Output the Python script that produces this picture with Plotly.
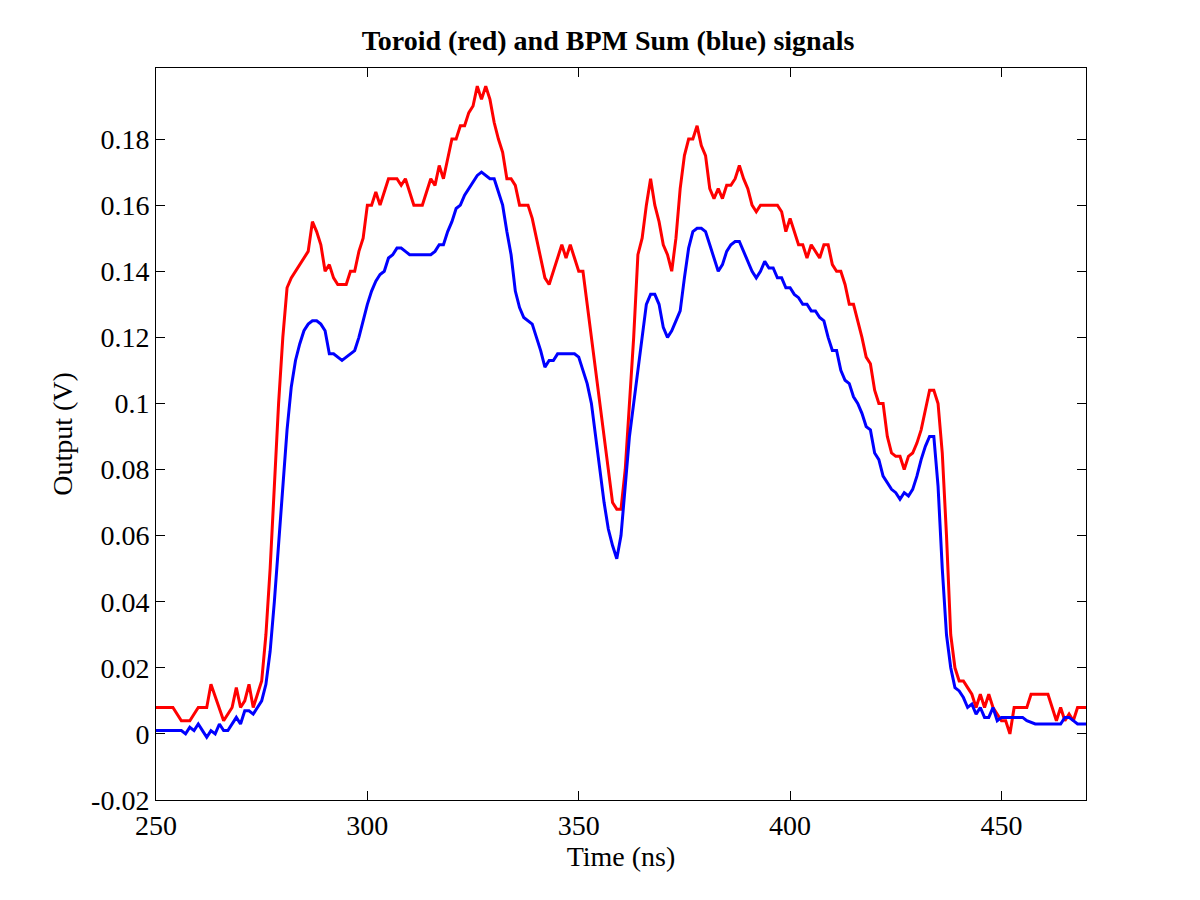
import plotly.graph_objects as go

red_t = [250, 254, 256, 258, 260, 262, 263, 265, 266, 268, 269, 270, 271, 272, 273, 274, 275, 276, 277, 278, 279,
         280, 281, 282, 283, 284, 285, 286, 287, 288, 289, 290, 291, 292, 293, 295, 296, 297, 298, 299, 300, 301, 302,
         303, 304, 305, 307, 308, 309, 310, 311, 313, 314, 315, 316, 317, 318, 319, 320, 321, 322, 323, 324, 325, 326,
         327, 328, 329, 330, 331, 332, 333, 334, 335, 336, 337, 338, 339, 340, 341, 342, 343, 344, 345, 346, 347, 348,
         349, 350, 351, 352, 353, 354, 355, 356, 357, 358, 359, 360, 361, 362, 363, 364, 365, 366, 367, 368, 369, 370,
         371, 372, 373, 374, 375, 376, 377, 378, 379, 380, 381, 382, 383, 384, 385, 386, 387, 388, 389, 390, 391, 392,
         393, 396, 397, 398, 399, 400, 401, 402, 403, 404, 405, 406, 407, 408, 409, 410, 411, 412, 413, 414, 415, 416,
         417, 418, 419, 420, 421, 422, 423, 424, 425, 426, 427, 428, 429, 430, 431, 432, 433, 434, 435, 436, 437, 438,
         439, 440, 441, 442, 443, 444, 445, 446, 447, 448, 449, 450, 451, 452, 453, 456, 457, 461, 462, 463, 464, 465,
         466, 467, 468, 470]
red_v = [0.008, 0.008, 0.004, 0.004, 0.008, 0.008, 0.015, 0.008, 0.004, 0.008, 0.014, 0.008, 0.01, 0.015, 0.008,
         0.012, 0.016, 0.03, 0.05, 0.075, 0.1, 0.12, 0.135, 0.138, 0.14, 0.142, 0.144, 0.146, 0.155, 0.152, 0.148, 0.14,
         0.142, 0.138, 0.136, 0.136, 0.14, 0.14, 0.146, 0.15, 0.16, 0.16, 0.164, 0.16, 0.164, 0.168, 0.168, 0.166,
         0.168, 0.164, 0.16, 0.16, 0.164, 0.168, 0.166, 0.172, 0.168, 0.174, 0.18, 0.18, 0.184, 0.184, 0.188, 0.19,
         0.196, 0.192, 0.196, 0.192, 0.185, 0.18, 0.176, 0.168, 0.168, 0.166, 0.16, 0.16, 0.16, 0.156, 0.15, 0.145,
         0.138, 0.136, 0.14, 0.144, 0.148, 0.144, 0.148, 0.144, 0.14, 0.14, 0.13, 0.12, 0.11, 0.1, 0.09, 0.08, 0.07,
         0.068, 0.068, 0.08, 0.1, 0.12, 0.145, 0.15, 0.16, 0.168, 0.16, 0.155, 0.148, 0.145, 0.14, 0.15, 0.165, 0.175,
         0.18, 0.18, 0.184, 0.178, 0.175, 0.165, 0.162, 0.165, 0.162, 0.166, 0.166, 0.168, 0.172, 0.168, 0.165, 0.16,
         0.158, 0.16, 0.16, 0.16, 0.158, 0.152, 0.156, 0.152, 0.148, 0.148, 0.144, 0.148, 0.146, 0.144, 0.148, 0.148,
         0.142, 0.14, 0.14, 0.136, 0.13, 0.13, 0.125, 0.12, 0.114, 0.112, 0.104, 0.1, 0.1, 0.09, 0.085, 0.084, 0.084,
         0.08, 0.084, 0.085, 0.088, 0.092, 0.098, 0.104, 0.104, 0.1, 0.085, 0.06, 0.03, 0.02, 0.016, 0.016, 0.014,
         0.012, 0.008, 0.012, 0.008, 0.012, 0.008, 0.006, 0.004, 0.004, 0.0, 0.008, 0.008, 0.012, 0.012, 0.008, 0.004,
         0.008, 0.004, 0.006, 0.004, 0.008, 0.008]

blue_t = [250, 256, 257, 258, 259, 260, 261, 262, 263, 264, 265, 266, 267, 268, 269, 270, 271, 272, 273, 274, 275,
          276, 277, 278, 279, 280, 281, 282, 283, 284, 285, 286, 287, 288, 289, 290, 291, 292, 293, 294, 295, 296, 297,
          298, 299, 300, 301, 302, 303, 304, 305, 306, 307, 308, 309, 310, 315, 316, 317, 318, 319, 320, 321, 322, 323,
          324, 325, 326, 327, 328, 329, 330, 331, 332, 333, 334, 335, 336, 337, 338, 339, 340, 341, 342, 343, 344, 345,
          349, 350, 351, 352, 353, 354, 355, 356, 357, 358, 359, 360, 361, 362, 363, 364, 365, 366, 367, 368, 369, 370,
          371, 372, 373, 374, 375, 376, 377, 378, 379, 380, 381, 382, 383, 384, 385, 386, 387, 388, 389, 390, 391, 392,
          393, 394, 395, 396, 397, 398, 399, 400, 401, 402, 403, 404, 405, 406, 407, 408, 409, 410, 411, 412, 413, 414,
          415, 416, 417, 418, 419, 420, 421, 422, 423, 424, 425, 426, 427, 428, 429, 430, 431, 432, 433, 434, 435, 436,
          437, 438, 439, 440, 441, 442, 443, 444, 445, 446, 447, 448, 449, 450, 455, 456, 458, 464, 465, 466, 467, 468,
          470]
blue_v = [0.001, 0.001, 0.0, 0.002, 0.001, 0.003, 0.001, -0.001, 0.001, 0.0, 0.003, 0.001, 0.001, 0.003, 0.005,
          0.003, 0.007, 0.007, 0.006, 0.008, 0.01, 0.015, 0.025, 0.04, 0.058, 0.075, 0.092, 0.105, 0.113, 0.118, 0.122,
          0.124, 0.125, 0.125, 0.124, 0.122, 0.115, 0.115, 0.114, 0.113, 0.114, 0.115, 0.116, 0.12, 0.125, 0.13, 0.134,
          0.137, 0.139, 0.14, 0.144, 0.145, 0.147, 0.147, 0.146, 0.145, 0.145, 0.146, 0.148, 0.148, 0.152, 0.155,
          0.159, 0.16, 0.163, 0.165, 0.167, 0.169, 0.17, 0.169, 0.168, 0.168, 0.164, 0.16, 0.152, 0.145, 0.134, 0.129,
          0.126, 0.125, 0.124, 0.12, 0.116, 0.111, 0.113, 0.113, 0.115, 0.115, 0.114, 0.11, 0.106, 0.1, 0.09, 0.08,
          0.07, 0.062, 0.057, 0.053, 0.06, 0.075, 0.09, 0.1, 0.11, 0.12, 0.13, 0.133, 0.133, 0.13, 0.123, 0.12, 0.122,
          0.125, 0.128, 0.138, 0.147, 0.152, 0.153, 0.153, 0.152, 0.148, 0.144, 0.14, 0.142, 0.146, 0.148, 0.149,
          0.149, 0.146, 0.143, 0.14, 0.138, 0.14, 0.143, 0.141, 0.141, 0.138, 0.138, 0.135, 0.135, 0.133, 0.132, 0.13,
          0.13, 0.128, 0.128, 0.126, 0.125, 0.12, 0.116, 0.116, 0.11, 0.107, 0.106, 0.102, 0.1, 0.097, 0.093, 0.092,
          0.085, 0.083, 0.078, 0.076, 0.074, 0.073, 0.071, 0.073, 0.072, 0.074, 0.078, 0.083, 0.087, 0.09, 0.09, 0.075,
          0.05, 0.03, 0.02, 0.014, 0.013, 0.011, 0.008, 0.009, 0.006, 0.008, 0.005, 0.005, 0.008, 0.004, 0.005, 0.005,
          0.004, 0.003, 0.003, 0.005, 0.005, 0.004, 0.003, 0.003]

y_ticks = [-0.02, 0, 0.02, 0.04, 0.06, 0.08, 0.1, 0.12, 0.14, 0.16, 0.18]
y_labels = ['-0.02', '0', '0.02', '0.04', '0.06', '0.08', '0.1', '0.12', '0.14', '0.16', '0.18']
x_ticks = [250, 300, 350, 400, 450]

fig = go.Figure()
fig.add_trace(go.Scatter(x=red_t, y=red_v, mode='lines', line=dict(color='#ff0000', width=3)))
fig.add_trace(go.Scatter(x=blue_t, y=blue_v, mode='lines', line=dict(color='#0000ff', width=3)))

axis = dict(showgrid=False, zeroline=False, showline=True, mirror='allticks', linecolor='black', linewidth=1,
            ticks='inside', ticklen=9, tickcolor='black', tickfont=dict(size=28, color='black'), automargin=False)
fig.update_layout(
    width=1200, height=900, showlegend=False,
    paper_bgcolor='white', plot_bgcolor='white',
    font=dict(family='Liberation Serif', color='black'),
    margin=dict(l=148, r=122, t=60, b=108),
    title=dict(text='<b>Toroid (red) and BPM Sum (blue) signals</b>', x=0.5, xanchor='center',
               y=0.975, yanchor='top', font=dict(size=28)),
    xaxis=dict(axis, range=[250, 470], tickvals=x_ticks,
               title=dict(text='Time (ns)', font=dict(size=28), standoff=4)),
    yaxis=dict(axis, range=[-0.02, 0.2015], tickvals=y_ticks, ticktext=y_labels,
               title=dict(text='Output (V)', font=dict(size=28), standoff=10)),
)
fig.write_html("out.html")
